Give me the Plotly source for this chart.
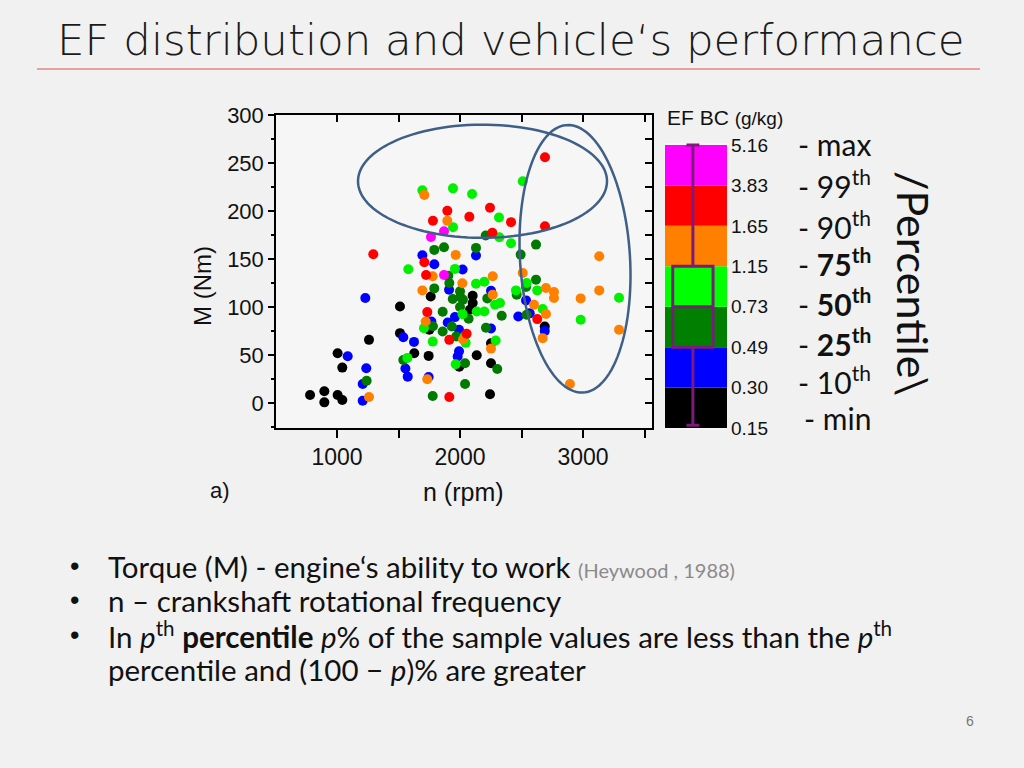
import numpy as np
import plotly.graph_objects as go

W, H = 1024, 768

# ---------------- data ----------------
black_n = [1762, 2103, 2103, 2081, 1512, 1751, 2689, 1512, 2252, 1260, 1005, 1628, 1745, 2136, 1994, 2252, 1043, 781, 897, 897, 1005, 1043, 2244]
black_m = [111, 111.8, 104.2, 97.2, 100.6, 76.3, 79.7, 72.8, 62.3, 65.8, 51.9, 51.9, 49.1, 49.7, 37.9, 41.4, 36.9, 8.4, 12.2, 0.7, 8.4, 3.1, 9.1]

blue_n = [1694, 2130, 1791, 2021, 1911, 2252, 1230, 2537, 1959, 2474, 2567, 1767, 1900, 1992, 2252, 2689, 1539, 1626, 1087, 1981, 1992, 1238, 1556, 1575, 1209, 1745, 1209]
blue_m = [154, 153.6, 144.5, 139, 118, 117, 109.4, 106.9, 89.5, 90.2, 93.4, 85, 83.9, 76.3, 77.6, 74.9, 68.6, 63.7, 48.8, 48.4, 53.9, 36.2, 35.9, 27.5, 19.9, 27.2, 2.4]

dgreen_n = [2209, 2618, 1791, 1870, 2130, 2493, 1905, 2618, 1913, 1791, 2000, 2537, 1941, 2222, 2461, 2000, 1859, 2339, 2542, 1933, 1859, 2211, 1539, 2041, 2303, 1241, 2041, 1778, 2003, 2024, 2070, 1780, 1970]
dgreen_m = [174.5, 165, 159.5, 162.3, 161.6, 154.6, 132.7, 128.5, 125, 119.4, 116.3, 120.9, 108.4, 109, 112.9, 100, 95, 90.9, 92, 79.7, 74.5, 78.4, 44.9, 41.4, 35.5, 23.3, 19.9, 7.3, 110.5, 107.7, 87.8, 79.9, 69.4]

green_n = [2510, 1694, 1943, 2098, 2317, 1943, 2320, 2415, 1580, 1959, 2130, 2198, 2455, 2542, 2628, 3293, 2285, 2325, 2136, 2198, 2021, 2672, 1707, 2981, 1778, 2290, 1965, 2038, 2046, 1572]
green_m = [231, 221.5, 223.6, 217.7, 193.3, 183.2, 172.7, 166.5, 139.3, 139.7, 124.3, 126.4, 117.3, 125, 117.3, 109.7, 102.4, 104.2, 95.4, 95.4, 92.6, 97.9, 78, 86.7, 64, 65.1, 40.4, 69.6, 62.7, 47]

orange_n = [1710, 1897, 1965, 3132, 1778, 2266, 2510, 2019, 1694, 2266, 2699, 2764, 2764, 2981, 3132, 2602, 2699, 1721, 2672, 3293, 2252, 1734, 2894, 1260, 2024]
orange_m = [216.6, 189.9, 154.3, 152.9, 132, 132, 135.5, 124.7, 117.3, 112.9, 119.9, 115.7, 109.4, 109, 117.3, 102.4, 92.7, 85, 67.6, 76.3, 56.7, 24.7, 19.9, 6.3, 66.1]

red_n = [2691, 1897, 2244, 1780, 2076, 2415, 2691, 2263, 1295, 1710, 1724, 1734, 2628, 2054, 1913, 1913]
red_m = [256, 200.3, 203.4, 189.9, 194, 188.4, 184.2, 177.3, 155, 146.6, 133.4, 94.7, 87.4, 72.1, 65.8, 6.3]

magenta_n = [1870, 1764, 1870]
magenta_m = [179, 173, 133.4]

# EF BC class bands (bottom -> top) and boundary labels
band_colors = ["#000000", "#0000FF", "#007F00", "#00FF00", "#FF7F00", "#FF0000", "#FF00FF"]
band_bounds = ["0.15", "0.30", "0.49", "0.73", "1.15", "1.65", "3.83", "5.16"]
pct_labels = ["- min", "- 10<sup>th</sup>", "- <b>25<sup>th</sup></b>", "- <b>50<sup>th</sup></b>",
              "- <b>75<sup>th</sup></b>", "- 90<sup>th</sup>", "- 99<sup>th</sup>", "- max"]
# percentile box (in band-position units)
box_lo, box_q1, box_med, box_q3, box_hi = 0.07, 2, 3, 4, 7

x_ticks = [1000, 2000, 3000]
y_ticks = [0, 50, 100, 150, 200, 250, 300]

# ---------------- layout geometry ----------------
XR = [504, 3561]
YR = [-26, 300]
PX_X0, PX_X1 = 276, 652
PX_Y0, PX_Y1 = 115, 428
XS = (PX_X1 - PX_X0) / (XR[1] - XR[0])
YS = (PX_Y1 - PX_Y0) / (YR[1] - YR[0])

FONT_A = "Liberation Sans, Arial, sans-serif"
FONT_C = "Lato, Open Sans, sans-serif"

fig = go.Figure()

series = [
    (black_n, black_m, "#000000"),
    (blue_n, blue_m, "#0000FF"),
    (dgreen_n, dgreen_m, "#007A00"),
    (green_n, green_m, "#00F000"),
    (orange_n, orange_m, "#FF8000"),
    (red_n, red_m, "#FF0000"),
    (magenta_n, magenta_m, "#FF00FF"),
]
for xs, ys, c in series:
    fig.add_trace(go.Scatter(x=xs, y=ys, mode="markers",
                             marker=dict(size=10, color=c, line=dict(width=0)),
                             showlegend=False, hoverinfo="skip"))

# invisible trace for mirrored (top/right) axes
fig.add_trace(go.Scatter(x=[XR[0]], y=[YR[0]], mode="markers", marker=dict(opacity=0),
                         xaxis="x3", yaxis="y3", showlegend=False, hoverinfo="skip"))

# colour key bars
fig.add_trace(go.Bar(x=[0] * len(band_colors), y=[1] * len(band_colors),
                     base=list(range(len(band_colors))), width=1,
                     marker=dict(color=band_colors, line=dict(width=0)),
                     xaxis="x2", yaxis="y2", showlegend=False, hoverinfo="skip"))
fig.add_trace(go.Box(x=[-0.05], q1=[box_q1], median=[box_med], q3=[box_q3],
                     lowerfence=[box_lo], upperfence=[box_hi], width=0.65, whiskerwidth=0.32,
                     line=dict(color="#7B1C7B", width=3), fillcolor="rgba(0,0,0,0)",
                     boxpoints=False, xaxis="x2", yaxis="y2", showlegend=False, hoverinfo="skip"))


def ellipse_path(cx, cy, a_px, b_px, ang_deg, n=120):
    t = np.linspace(0, 2 * np.pi, n)
    u = a_px * np.cos(t)
    v = b_px * np.sin(t)
    th = np.radians(ang_deg)
    xp = u * np.cos(th) - v * np.sin(th)
    yp = u * np.sin(th) + v * np.cos(th)
    xd = cx + xp / XS
    yd = cy + yp / YS
    return "M " + " L ".join(f"{a:.2f},{b:.2f}" for a, b in zip(xd, yd)) + " Z"


shapes = [
    dict(type="path", xref="x", yref="y", path=ellipse_path(2183, 231, 124.5, 56.6, 0),
         line=dict(color="#3F5F87", width=2.5)),
    dict(type="path", xref="x", yref="y", path=ellipse_path(2935, 150.2, 55, 134, 3.5),
         line=dict(color="#3F5F87", width=2.5)),
    dict(type="line", xref="paper", yref="paper", x0=37 / W, x1=980 / W,
         y0=1 - 69 / H, y1=1 - 69 / H, line=dict(color="#D9534F", width=1)),
]


def A(text, px, py, size, family=FONT_A, color="#111", xanchor="center", angle=0, weight=None):
    f = dict(family=family, size=size, color=color)
    if weight is not None:
        f["weight"] = weight
    return dict(text=text, x=px / W, y=1 - py / H, xref="paper", yref="paper",
                xanchor=xanchor, yanchor="middle", showarrow=False, textangle=angle,
                font=f)


ann = []
ann.append(A("EF distribution and vehicle‘s performance", 55, 40, 43.5,
             family="DejaVu Sans, sans-serif", color="#1A1A1A", xanchor="left", weight=200))
ann.append(A("M (Nm)", 203, 286, 24, angle=-90))
ann.append(A("n (rpm)", 463, 492, 25))
ann.append(A("a)", 220, 490, 22))
ann.append(A("EF BC <span style='font-size:19px'>(g/kg)</span>", 665, 117, 21, xanchor="left"))
pct_y = [418, 380, 342, 302, 262, 225, 184, 144]
for lab, py in zip(pct_labels, pct_y):
    ann.append(A(lab, 873, py, 30, family=FONT_C, xanchor="right"))
ann.append(A("/Percentile\\", 913, 283, 43, family=FONT_C, angle=90))

bullets = [
    (566, True, "Torque (M) - engine‘s ability to work <span style='font-size:20px;color:#8A8A8A'>(Heywood , 1988)</span>"),
    (600, True, "n – crankshaft rotational frequency"),
    (635, True, "In <i>p</i><sup>th</sup> <b>percentile</b> <i>p</i>% of the sample values are less than the <i>p</i><sup>th</sup>"),
    (669, False, "percentile and (100 − <i>p</i>)% are greater"),
]
for py, has_bullet, txt in bullets:
    if has_bullet:
        ann.append(A("•", 74, py, 27, xanchor="center"))
    ann.append(A(txt, 106, py, 29.5, family=FONT_C, xanchor="left"))
ann.append(A("6", 970, 721, 14, color="#777"))

fig.update_layout(
    template="none",
    width=W, height=H, autosize=False,
    margin=dict(l=0, r=0, t=0, b=0, pad=0, autoexpand=False),
    paper_bgcolor="#F1F1F1", plot_bgcolor="#F6F6F6",
    showlegend=False, shapes=shapes, annotations=ann,
    xaxis=dict(domain=[PX_X0 / W, PX_X1 / W], range=XR, anchor="y", automargin=False,
               tickvals=x_ticks, ticks="outside", ticklen=8, tickwidth=1.5, tickcolor="#000",
               minor=dict(tickvals=[500, 1500, 2500, 3500], ticks="outside", ticklen=8,
                          tickwidth=1.5, tickcolor="#000"),
               showline=True, linecolor="#000", linewidth=1.5, showgrid=False, zeroline=False,
               tickfont=dict(family=FONT_A, size=23, color="#111")),
    yaxis=dict(domain=[1 - PX_Y1 / H, 1 - PX_Y0 / H], range=YR, anchor="x", automargin=False,
               tickvals=y_ticks, ticks="outside", ticklen=6, tickwidth=1.5, tickcolor="#000",
               minor=dict(dtick=25, tick0=0, ticks="outside", ticklen=3, tickwidth=1.5, tickcolor="#000"),
               showline=True, linecolor="#000", linewidth=1.5, showgrid=False, zeroline=False,
               tickfont=dict(family=FONT_A, size=22, color="#111")),
    xaxis3=dict(overlaying="x", side="top", anchor="y", range=XR, automargin=False,
                tickvals=[500, 1000, 1500, 2000, 2500, 3000, 3500], ticks="inside", ticklen=7,
                tickwidth=1.5, tickcolor="#000", showticklabels=False,
                showline=True, linecolor="#000", linewidth=1.5, showgrid=False, zeroline=False),
    yaxis3=dict(overlaying="y", side="right", anchor="x", range=YR, automargin=False,
                dtick=25, tick0=0, ticks="inside", ticklen=7, tickwidth=1.5, tickcolor="#000",
                showticklabels=False, showline=True, linecolor="#000", linewidth=1.5,
                showgrid=False, zeroline=False),
    xaxis2=dict(domain=[665 / W, 727 / W], range=[-0.5, 0.5], anchor="y2", visible=False,
                automargin=False),
    yaxis2=dict(domain=[1 - 430 / H, 1 - 143 / H], range=[-0.05, 7.05], anchor="x2", side="right",
                automargin=False,
                tickvals=list(range(len(band_bounds))), ticktext=band_bounds, ticks="",
                ticklabelstandoff=3, showline=False, showgrid=False, zeroline=False,
                tickfont=dict(family=FONT_A, size=19, color="#111")),
)

fig.write_html("out.html", config={"displayModeBar": False},
               post_script="document.body.style.margin='0';document.body.style.overflow='hidden';")
